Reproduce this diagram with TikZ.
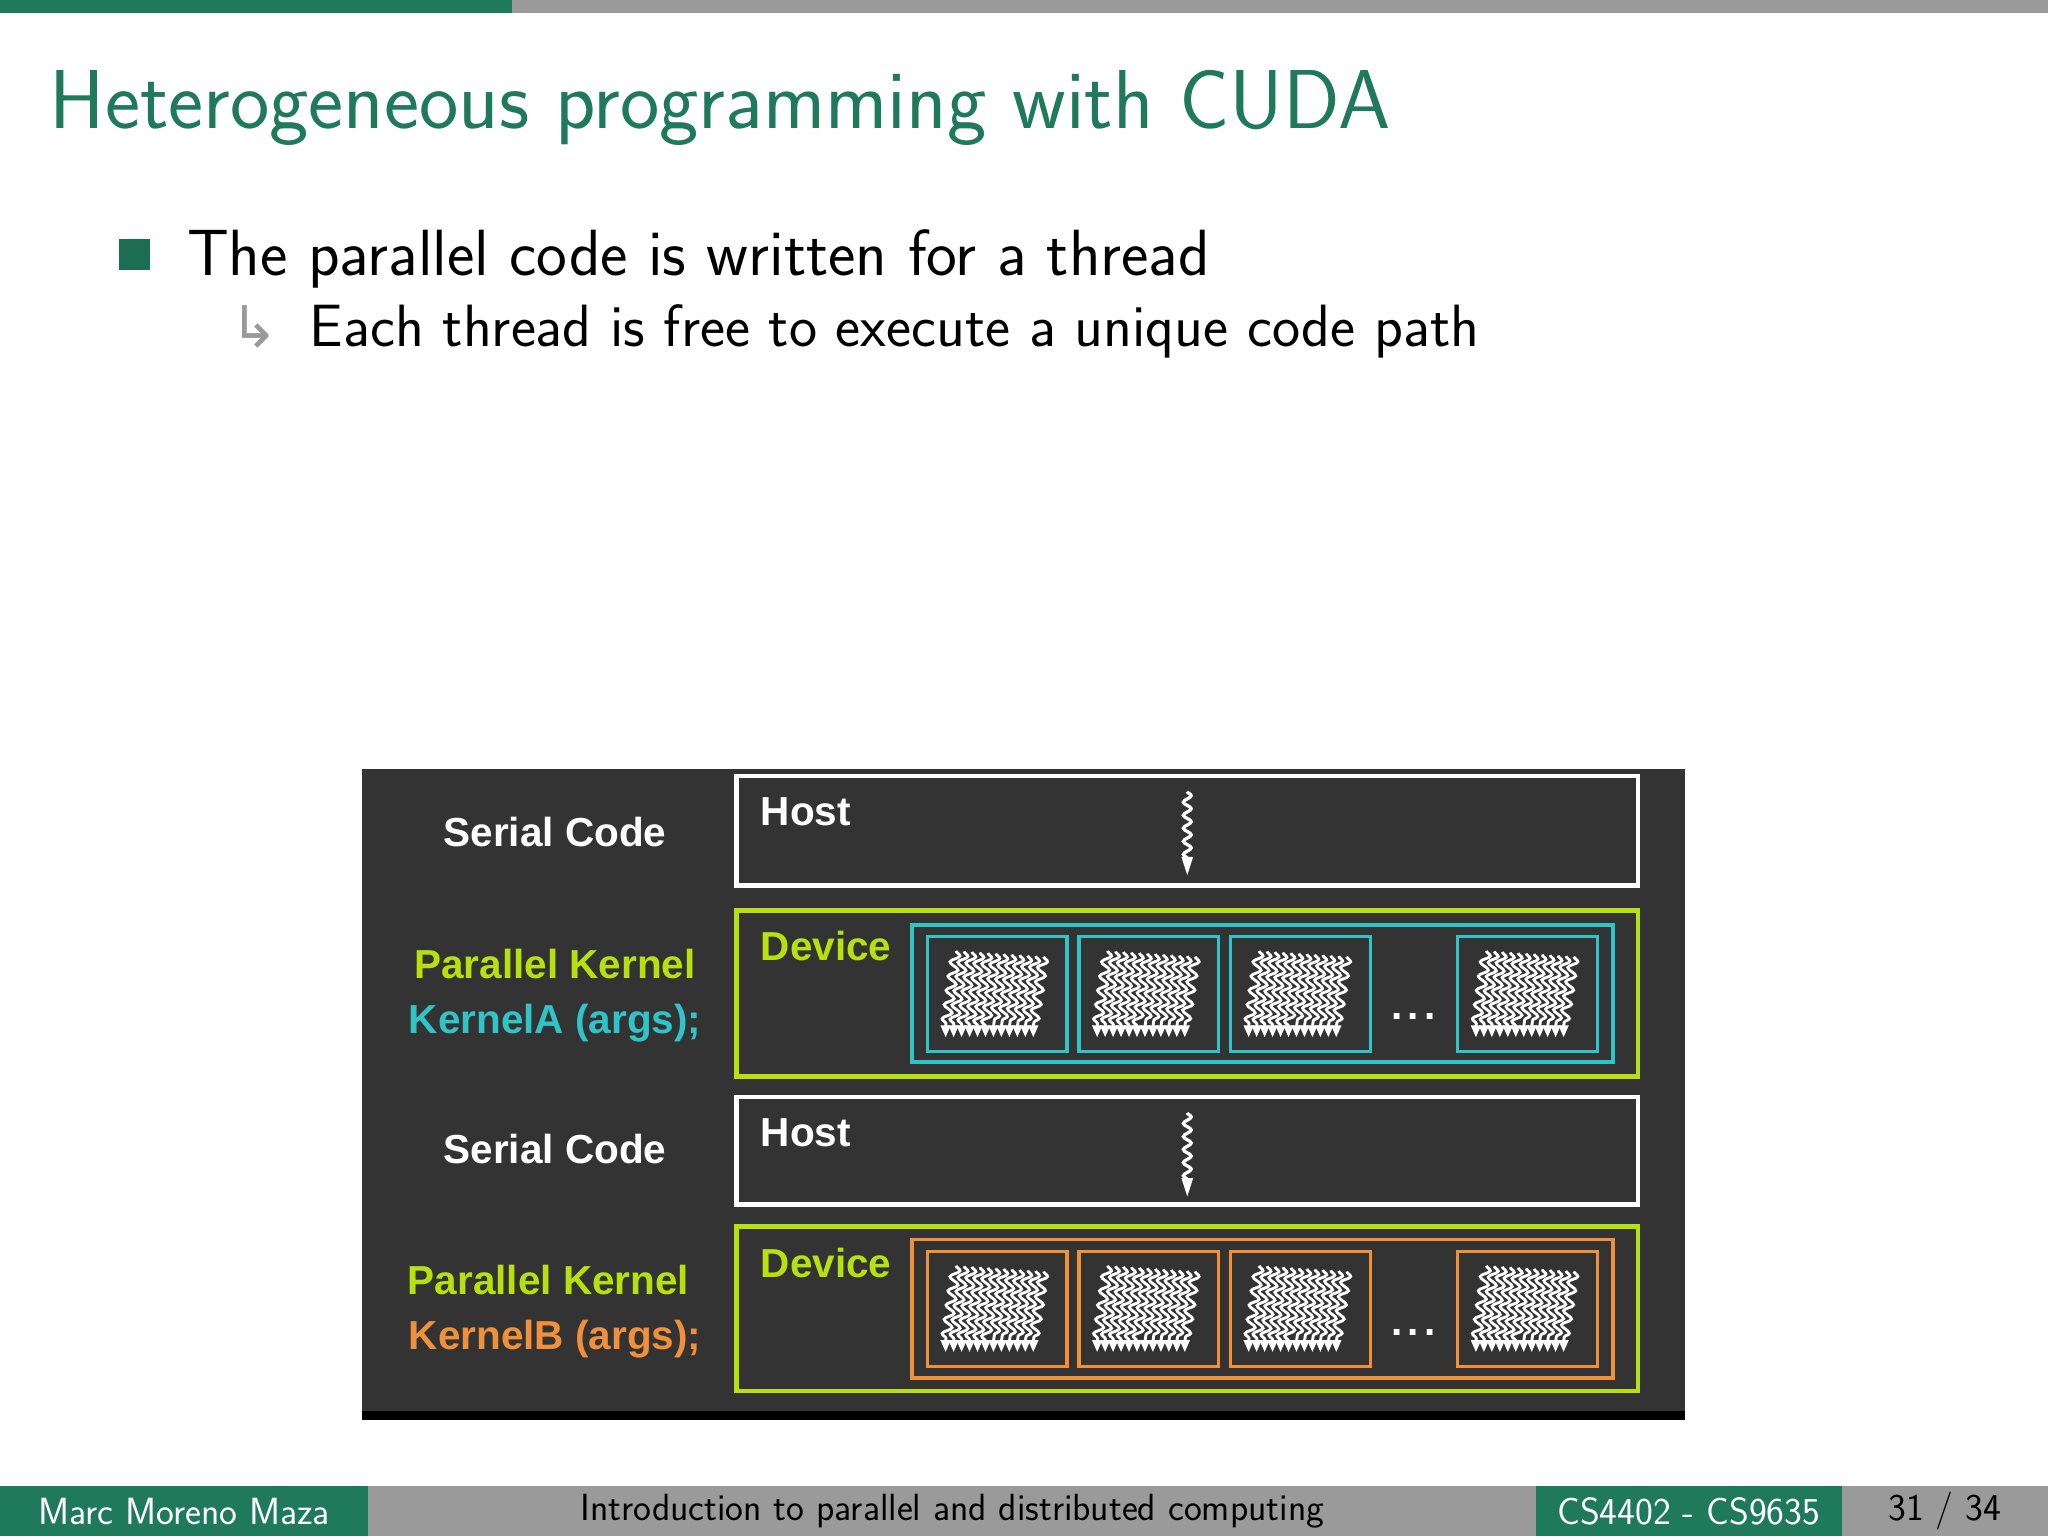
\documentclass[tikz,border=0pt]{standalone}
\usepackage{fontspec}
\setsansfont{Latin Modern Sans}
\newfontfamily\arialb{Liberation Sans}[BoldFont={Liberation Sans Bold}]
\newfontfamily\dejavu{DejaVu Sans}
\usetikzlibrary{decorations.pathmorphing,arrows.meta}
\definecolor{bgreen}{HTML}{1F7A5C}
\definecolor{bgray}{HTML}{9A9A9A}
\definecolor{panel}{HTML}{333333}
\definecolor{ygreen}{HTML}{B8E010}
\definecolor{kcyan}{HTML}{2EC4C8}
\definecolor{korange}{HTML}{F0903A}
\begin{document}
\begin{tikzpicture}[x=1pt,y=-1pt,
  lbl/.style={font=\arialb\bfseries\fontsize{31}{33}\selectfont},
  hostbox/.style={draw=white,line width=3.5pt},
  devbox/.style={draw=ygreen,line width=3.5pt},
  thr/.style={draw=white,line width=2.2pt,decorate,decoration={snake,segment length=11pt,amplitude=3.5pt}},
  pics/threads/.style={code={
    \foreach \i in {0,...,11}{
      \draw[thr] (\i*6.1,{-2+\i*0.4}) -- (\i*6.1-8,56);
      \fill[white] (\i*6.1-12,55) -- (\i*6.1-4,55) -- (\i*6.1-8,64) -- cycle;
    }}},
  pics/squig/.style={code={
    \draw[white,line width=2.5pt,decorate,decoration={snake,segment length=10pt,amplitude=3pt}] (0,0) -- (0,52);
    \fill[white] (-4.5,50) -- (4.5,50) -- (0,64) -- cycle;}}
]
\useasboundingbox (0,0) rectangle (1568,1176);
\fill[white] (0,0) rectangle (1568,1176);
% top bar
\fill[bgreen] (0,0) rectangle (392,10);
\fill[bgray] (392,0) rectangle (1568,10);
% title
\node[anchor=base west,text=bgreen,font=\sffamily\fontsize{64}{66}\selectfont,inner sep=0] (title) at (38,98) {Heterogeneous programming with CUDA};
\fill[bgreen!90!black] (91,183) rectangle (115,207);
\node[anchor=base west,font=\sffamily\fontsize{50}{52}\selectfont,inner sep=0] (b1) at (143,211) {The parallel code is written for a thread};
\node[anchor=base west,text=bgray,font=\dejavu\fontsize{44}{46}\selectfont,inner sep=0] (arr) at (176,266) {↳};
\node[anchor=base west,font=\sffamily\fontsize{45.7}{48}\selectfont,inner sep=0] (b2) at (237,265) {Each thread is free to execute a unique code path};
% panel
\fill[panel] (277,589) rectangle (1290,1083);
\fill[black] (277,1080) rectangle (1290,1087);
\node[lbl,text=white] (s1) at (425,637) {Serial Code};
\node[lbl,text=ygreen] (p1) at (425,738) {Parallel Kernel};
\node[lbl,text=kcyan] (k1) at (425,783) {KernelA (args);};
\node[lbl,text=white] (s2) at (425,880) {Serial Code};
\node[lbl,text=ygreen] (p2) at (420,980) {Parallel Kernel};
\node[lbl,text=korange] (k2) at (425,1025) {KernelB (args);};
% host boxes
\draw[hostbox] (564,594) rectangle (1254,678);
\node[lbl,text=white,anchor=base west] (h1) at (579,632) {Host};
\pic at (909,606) {squig};
\draw[hostbox] (564,840) rectangle (1254,922);
\node[lbl,text=white,anchor=base west] (h2) at (579,878) {Host};
\pic at (909,852) {squig};
% device A
\draw[devbox] (564,697) rectangle (1254,824);
\node[lbl,text=ygreen,anchor=base west] (d1) at (579,735) {Device};
\draw[kcyan,line width=3pt] (698,708) rectangle (1235,813);
\foreach \x in {710,826,942,1116}{
  \draw[kcyan,line width=2.5pt] (\x,717) rectangle (\x+107,805);
  \pic at (\x+22,730) {threads};
}
\node[lbl,text=white] (dotsA) at (1082,778) {.\hspace{4pt}.\hspace{4pt}.};
% device B
\draw[devbox] (564,939) rectangle (1254,1065);
\node[lbl,text=ygreen,anchor=base west] (d2) at (579,978) {Device};
\draw[korange,line width=3pt] (698,949) rectangle (1235,1055);
\foreach \x in {710,826,942,1116}{
  \draw[korange,line width=2.5pt] (\x,958) rectangle (\x+107,1046);
  \pic at (\x+22,971) {threads};
}
\node[lbl,text=white] (dotsB) at (1082,1020) {.\hspace{4pt}.\hspace{4pt}.};
% footer
\fill[bgreen] (0,1138) rectangle (282,1176);
\fill[bgray] (282,1138) rectangle (1176,1176);
\fill[bgreen] (1176,1138) rectangle (1410,1176);
\fill[bgray] (1410,1138) rectangle (1568,1176);
\tikzset{foot/.style={font=\sffamily\fontsize{29}{31}\selectfont,inner sep=0}}
\node[foot,text=white] (f1) at (141,1157) {Marc Moreno Maza};
\node[foot,text=black] (f2) at (729,1157) {Introduction to parallel and distributed computing};
\node[foot,text=white] (f3) at (1293,1157) {CS4402 - CS9635};
\node[foot,text=black] (f4) at (1489,1157) {31 / 34};
\end{tikzpicture}
\end{document}
